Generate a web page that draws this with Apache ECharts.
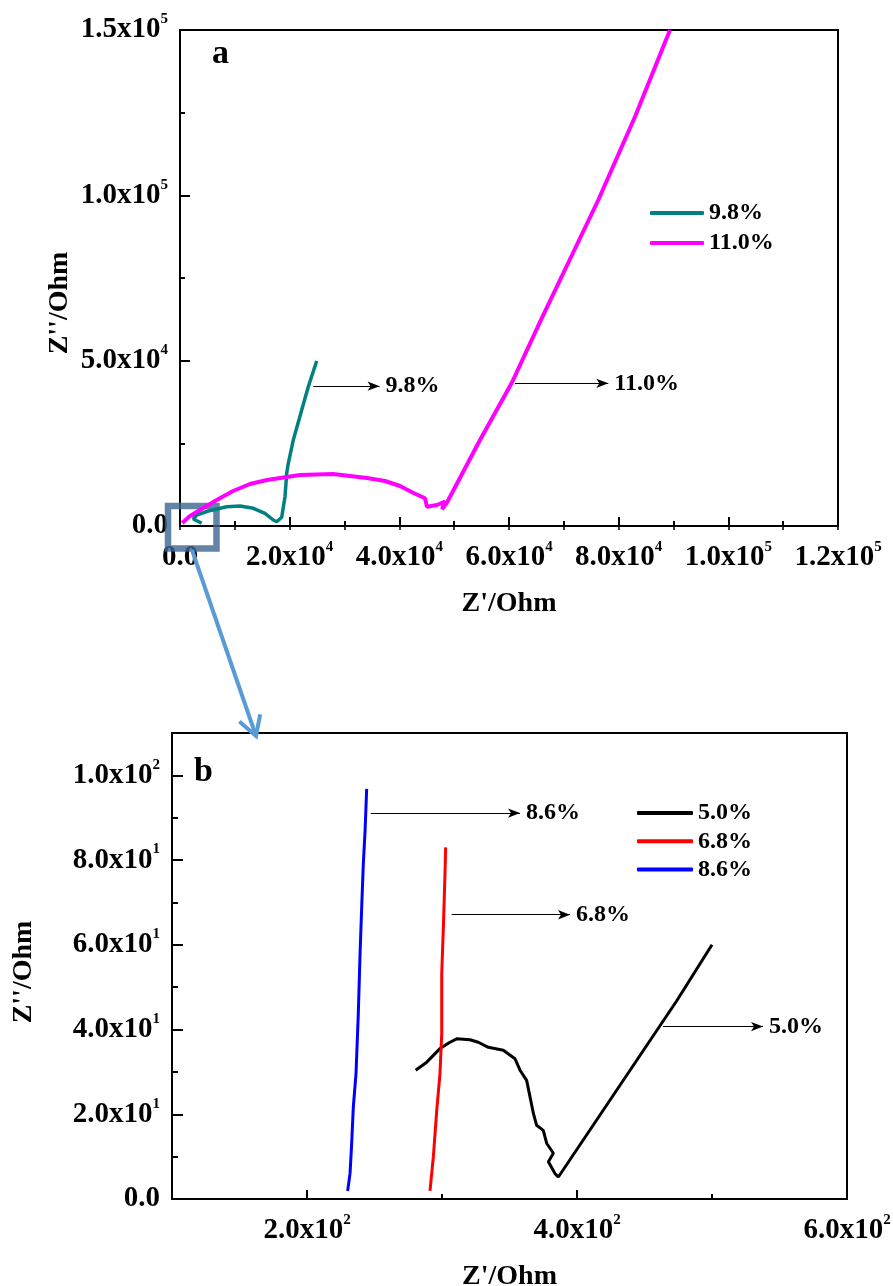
<!DOCTYPE html>
<html>
<head>
<meta charset="utf-8">
<script src="https://cdn.jsdelivr.net/npm/echarts@6/dist/echarts.min.js"></script>
<style>
html,body{margin:0;padding:0;background:#fff;}
#c{width:893px;height:1286px;}
</style>
</head>
<body>
<div id="c"></div>
<script>
// ---------- DATA (panel a) ----------
const s98_x = [3957, 2426, 3046, 5161, 8517, 10942, 13368, 15501, 17015, 17635, 18547, 19149, 19459, 19751, 20663, 22195, 23398, 24930];
const s98_y = [817, 2117, 3327, 4536, 5837, 6048, 5353, 3841, 1815, 1300, 2631, 8861, 15937, 18962, 26008, 35081, 42128, 49899];
const s110_x = [400, 1824, 3647, 6383, 9666, 12766, 15866, 21884, 27903, 34103, 37386, 40121, 42492, 44680, 45045, 46869, 48328, 47781, 48640, 54711, 60492, 65963, 76285, 82978, 89361];
const s110_y = [900, 3024, 4839, 7560, 10585, 12702, 13911, 15423, 15726, 14516, 13609, 12097, 10070, 8377, 5837, 6351, 7349, 5050, 6955, 26008, 43246, 62813, 98589, 123781, 150000];
// ---------- DATA (panel b) ----------
const s86_x = [230.1, 231.9, 233.1, 234.3, 236.3, 238.0, 239.3, 240.5, 241.7, 243.0, 244.2];
const s86_y = [1.9, 6.1, 13.2, 21.7, 29.6, 43.7, 57.9, 68.8, 79.0, 86.8, 96.8];
const s68_x = [291.1, 293.6, 296.1, 298.5, 299.8, 299.8, 301.0, 302.2, 302.7];
const s68_y = [1.9, 10.0, 20.9, 29.6, 39.0, 53.1, 64.0, 76.6, 83.0];
const s50_x = [280.5, 288.7, 298.5, 305.9, 310.9, 320.7, 326.9, 334.3, 345.4, 354.1, 357.8, 362.7, 365.2, 367.7, 370.1, 375.0, 377.6, 382.5, 378.8, 383.7, 386.2, 473.9, 500.0];
const s50_y = [30.4, 32.3, 35.5, 37.0, 37.8, 37.6, 37.0, 35.8, 35.1, 33.1, 30.4, 28.0, 24.1, 20.2, 17.4, 16.2, 13.1, 10.8, 8.8, 6.0, 5.2, 46.8, 60.0];
// ---------- TICKS / LABELS ----------
const topXTicks = [0, 20000, 40000, 60000, 80000, 100000, 120000];
const topYTicks = [0, 50000, 100000, 150000];
const botXTicks = [200, 400, 600];
const botXMinor = [300, 500];
const botYTicks = [0, 20, 40, 60, 80, 100];
const botYMinor = [10, 30, 50, 70, 90];
const topLegend = ['9.8%', '11.0%'];
const botLegend = ['5.0%', '6.8%', '8.6%'];
// annotations: [label, x start, x end, y]
const annTop = [['9.8%', 24300, 36400, 42300], ['11.0%', 61094, 78110, 43155]];
const annBot = [['8.6%', 247.2, 357.8, 91.1], ['6.8%', 307.2, 394.8, 67.1], ['5.0%', 463.7, 537.8, 40.7]];

const FONT = "'Liberation Serif','Times New Roman',serif";
const zip = (xs, ys) => xs.map((x, i) => [x, ys[i]]);

function sci(v) {
  if (v === 0) return '{m|0.0}';
  const e = Math.floor(Math.log10(v) + 1e-9);
  const m = v / Math.pow(10, e);
  return '{m|' + m.toFixed(1) + 'x10}{s|' + e + '}';
}
const rich = {
  m: {fontSize: 29, lineHeight: 36, fontWeight: 'bold', fontFamily: FONT, color: '#000'},
  s: {fontSize: 15, fontWeight: 'bold', fontFamily: FONT, color: '#000', verticalAlign: 'top'}
};
const axLine = {show: true, lineStyle: {color: '#000', width: 2}};

function markArrows(list) {
  return list.map(a => [
    {coord: [a[1], a[3]], label: {formatter: a[0]}},
    {coord: [a[2], a[3]]}
  ]);
}
function ml(list) {
  return {
    silent: true, animation: false,
    symbol: ['none', 'arrow'], symbolSize: [7, 12],
    lineStyle: {color: '#000', width: 1, type: 'solid'},
    emphasis: {disabled: true},
    label: {show: true, position: 'end', distance: 6, color: '#000', fontSize: 24, fontWeight: 'bold', fontFamily: FONT},
    data: markArrows(list)
  };
}

const chart = echarts.init(document.getElementById('c'), null, {renderer: 'canvas'});
const option = {
  animation: false,
  backgroundColor: '#fff',
  grid: [
    {left: 180, top: 30, width: 658, height: 496, outerBoundsMode: 'none', containLabel: false, show: true, borderColor: '#000', borderWidth: 2, backgroundColor: 'transparent'},
    {left: 172, top: 733, width: 675, height: 466, outerBoundsMode: 'none', containLabel: false, show: true, borderColor: '#000', borderWidth: 2, backgroundColor: 'transparent'}
  ],
  legend: [
    {data: topLegend, left: 650, top: 201, padding: 0, orient: 'vertical', icon: 'roundRect', itemWidth: 54, itemHeight: 4, itemGap: 6, itemTextGap: 5,
     textStyle: {fontSize: 24, fontWeight: 'bold', fontFamily: FONT, color: '#000', lineHeight: 24}, selectedMode: false},
    {data: botLegend, left: 637, top: 801, padding: 0, orient: 'vertical', icon: 'roundRect', itemWidth: 56, itemHeight: 4, itemGap: 4.3, itemTextGap: 5,
     textStyle: {fontSize: 24, fontWeight: 'bold', fontFamily: FONT, color: '#000', lineHeight: 24}, selectedMode: false}
  ],
  xAxis: [
    {gridIndex: 0, type: 'value', min: 0, max: 120000, interval: 20000, position: 'bottom',
     axisLine: axLine, splitLine: {show: false},
     axisTick: {inside: true, length: 9, lineStyle: {width: 2, color: '#000'}},
     minorTick: {show: true, splitNumber: 2, length: 5, lineStyle: {width: 2, color: '#000'}},
     axisLabel: {customValues: topXTicks, formatter: sci, rich: rich, margin: 14},
     name: "Z'/Ohm", nameLocation: 'middle', nameGap: 64,
     nameTextStyle: {fontSize: 28, fontWeight: 'bold', fontFamily: FONT, color: '#000'}},
    {gridIndex: 0, type: 'value', min: 0, max: 120000, interval: 10000, position: 'top',
     axisLine: axLine, splitLine: {show: false},
     axisTick: {inside: true, length: 4, lineStyle: {width: 1.5, color: '#000'}},
     axisLabel: {show: false}},
    {gridIndex: 1, type: 'value', min: 100, max: 600, interval: 100, position: 'bottom',
     axisLine: axLine, splitLine: {show: false},
     axisTick: {customValues: [200, 400], inside: true, length: 9, lineStyle: {width: 2, color: '#000'}},
     axisLabel: {customValues: botXTicks, formatter: sci, rich: rich, margin: 14},
     name: "Z'/Ohm", nameLocation: 'middle', nameGap: 64,
     nameTextStyle: {fontSize: 28, fontWeight: 'bold', fontFamily: FONT, color: '#000'}},
    {gridIndex: 1, type: 'value', min: 100, max: 600, interval: 100, position: 'bottom',
     axisLine: {show: false}, splitLine: {show: false},
     axisTick: {customValues: botXMinor, inside: true, length: 5, lineStyle: {width: 2, color: '#000'}},
     axisLabel: {show: false}}
  ],
  yAxis: [
    {gridIndex: 0, type: 'value', min: 0, max: 150000, interval: 50000, position: 'left',
     axisLine: axLine, splitLine: {show: false},
     axisTick: {inside: true, length: 10, lineStyle: {width: 2, color: '#000'}},
     minorTick: {show: true, splitNumber: 2, length: 5, lineStyle: {width: 2, color: '#000'}},
     axisLabel: {customValues: topYTicks, formatter: sci, rich: rich, margin: 12}},
    {gridIndex: 0, type: 'value', min: 0, max: 150000, position: 'right',
     axisLine: axLine, splitLine: {show: false}, axisTick: {show: false}, axisLabel: {show: false}},
    {gridIndex: 1, type: 'value', min: 0, max: 110, interval: 10, position: 'left',
     axisLine: axLine, splitLine: {show: false},
     axisTick: {customValues: botYTicks, inside: true, length: 11, lineStyle: {width: 2, color: '#000'}},
     axisLabel: {customValues: botYTicks, formatter: sci, rich: rich, margin: 12}},
    {gridIndex: 1, type: 'value', min: 0, max: 110, interval: 10, position: 'left',
     axisLine: {show: false}, splitLine: {show: false},
     axisTick: {customValues: botYMinor, inside: true, length: 6, lineStyle: {width: 2, color: '#000'}},
     axisLabel: {show: false}}
  ],
  series: [
    {name: '9.8%', type: 'line', xAxisIndex: 0, yAxisIndex: 0, data: zip(s98_x, s98_y), showSymbol: false, symbol: 'none',
     lineStyle: {color: '#008080', width: 3.5}, itemStyle: {color: '#008080'}, z: 3, markLine: ml(annTop.slice(0, 1))},
    {name: '11.0%', type: 'line', xAxisIndex: 0, yAxisIndex: 0, data: zip(s110_x, s110_y), showSymbol: false, symbol: 'none',
     lineStyle: {color: '#ff00ff', width: 4}, itemStyle: {color: '#ff00ff'}, z: 3, markLine: ml(annTop.slice(1, 2))},
    {name: '5.0%', type: 'line', xAxisIndex: 2, yAxisIndex: 2, data: zip(s50_x, s50_y), showSymbol: false, symbol: 'none',
     lineStyle: {color: '#000000', width: 3}, itemStyle: {color: '#000000'}, markLine: ml(annBot.slice(2, 3))},
    {name: '6.8%', type: 'line', xAxisIndex: 2, yAxisIndex: 2, data: zip(s68_x, s68_y), showSymbol: false, symbol: 'none',
     lineStyle: {color: '#ff0000', width: 3}, itemStyle: {color: '#ff0000'}, markLine: ml(annBot.slice(1, 2))},
    {name: '8.6%', type: 'line', xAxisIndex: 2, yAxisIndex: 2, data: zip(s86_x, s86_y), showSymbol: false, symbol: 'none',
     lineStyle: {color: '#0000ff', width: 3}, itemStyle: {color: '#0000ff'}, markLine: ml(annBot.slice(0, 1))}
  ],
  graphic: [
    {type: 'text', x: 212, y: 54, style: {text: 'a', font: 'bold 34px ' + FONT, fill: '#000', align: 'left', verticalAlign: 'middle'}},
    {type: 'text', x: 194, y: 772, style: {text: 'b', font: 'bold 34px ' + FONT, fill: '#000', align: 'left', verticalAlign: 'middle'}},
    {type: 'text', x: 60, y: 303, rotation: Math.PI / 2, style: {text: "Z''/Ohm", font: 'bold 28px ' + FONT, fill: '#000', align: 'center', verticalAlign: 'middle'}},
    {type: 'text', x: 24, y: 972, rotation: Math.PI / 2, style: {text: "Z''/Ohm", font: 'bold 28px ' + FONT, fill: '#000', align: 'center', verticalAlign: 'middle'}},
    {type: 'rect', z: 1, shape: {x: 168, y: 506, width: 48.5, height: 42.5}, style: {fill: 'none', stroke: 'rgba(60,100,145,0.8)', lineWidth: 6.5}},
    {type: 'polyline', z: 1, shape: {points: [[192, 550], [256, 736]]}, style: {fill: 'none', stroke: '#5b9bd5', lineWidth: 4}},
    {type: 'polyline', z: 1, shape: {points: [[239.4, 721.5], [256, 736], [260.2, 714.4]]}, style: {fill: 'none', stroke: '#5b9bd5', lineWidth: 4}}
  ]
};
chart.setOption(option);
</script>
</body>
</html>
